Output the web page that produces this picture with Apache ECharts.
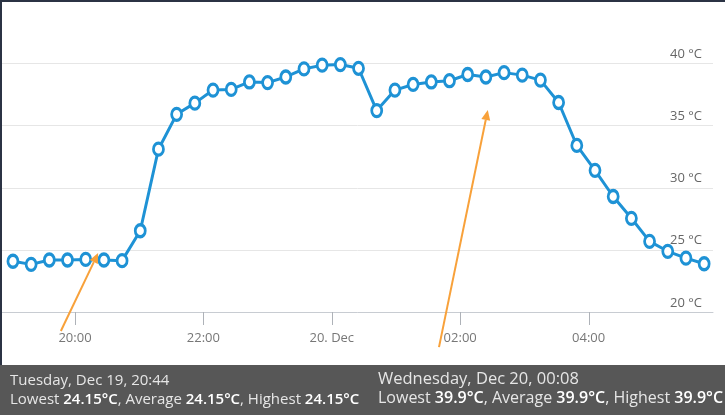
<!DOCTYPE html>
<html><head><meta charset="utf-8">
<script src="https://cdn.jsdelivr.net/npm/echarts@6/dist/echarts.min.js"></script>
<style>html,body{margin:0;padding:0;background:#fff}#c{width:725px;height:415px}</style>
</head><body><div id="c"></div>
<script>
// Reading times (Dec 19 -> Dec 20) and temperatures in °C
const times = ['19:02','19:19','19:36','19:53','20:10','20:27','20:44','21:01','21:18','21:35',
  '21:52','22:09','22:26','22:43','23:00','23:17','23:34','23:51','00:08','00:25',
  '00:42','00:59','01:16','01:33','01:50','02:07','02:24','02:41','02:58','03:15',
  '03:32','03:49','04:06','04:23','04:40','04:57','05:14','05:31','05:48'];
const temps = [24.1,23.85,24.2,24.2,24.25,24.2,24.15,26.55,33.1,35.9,
  36.8,37.85,37.9,38.5,38.45,38.9,39.55,39.85,39.9,39.6,
  36.2,37.85,38.3,38.5,38.6,39.1,38.9,39.25,39.05,38.65,
  36.85,33.4,31.4,29.3,27.55,25.7,24.9,24.35,23.9];
// x tick positions (hours since Dec 19 00:00) and their labels
const tickHours = [20,22,24,26,28];
const tickLabels = ['20:00','22:00','20. Dec','02:00','04:00'];
const yTicks = [20,25,30,35,40];
// Tooltip panels
const tipLeft = {date:'Tuesday, Dec 19, 20:44', low:'24.15°C', avg:'24.15°C', high:'24.15°C'};
const tipRight = {date:'Wednesday, Dec 20, 00:08', low:'39.9°C', avg:'39.9°C', high:'39.9°C'};
// Annotation arrows in data coordinates [hours, °C]
const arrows = [{from:[19.78,18.5], to:[20.36,24.76]}, {from:[25.67,17.2], to:[26.43,36.25]}];

function toHours(t){const p=t.split(':').map(Number);return (p[0]<12?p[0]+24:p[0])+p[1]/60;}
const seriesData = times.map((t,i)=>[toHours(t), temps[i]]);
const blue = '#1e92d5';
const FONT = '"Open Sans", sans-serif';

const chart = echarts.init(document.getElementById('c'), null, {renderer:'canvas'});
chart.setOption({
  animation:false,
  grid:{left:2, right:12, top:63.3, bottom:102.7, containLabel:false},
  xAxis:{
    type:'value', min:18.863, max:29.938,
    axisLine:{show:true, lineStyle:{color:'#c8ccd2', width:1}},
    axisTick:{show:false},
    axisLabel:{customValues:tickHours, margin:19, color:'#777', fontFamily:FONT, fontSize:13,
      formatter:(v)=>{const i=tickHours.indexOf(Math.round(v));return i>=0?tickLabels[i]:'';}},
    splitLine:{show:false}
  },
  yAxis:{
    type:'value', position:'right', min:20, max:40, interval:5,
    axisLine:{show:false}, axisTick:{show:false},
    axisLabel:{inside:true, margin:11, color:'#666', fontFamily:FONT, fontSize:13,
      verticalAlign:'bottom', padding:[0,0,3,0], formatter:(v)=>v+' °C'},
    splitLine:{lineStyle:{color:'#e6e6e6', width:1}}
  },
  series:[{
    type:'line', data:seriesData, clip:false,
    lineStyle:{color:blue, width:3},
    symbol:'circle', symbolSize:[10,12], showSymbol:true,
    itemStyle:{color:'#fff', borderColor:blue, borderWidth:3}
  }]
});

function tickGraphics(){
  return tickHours.map(h=>{
    const p=chart.convertToPixel({gridIndex:0}, [h, 20]);
    const x=Math.round(p[0])+0.5, y=Math.round(p[1]);
    return {type:'rect', z:98, shape:{x:x-0.5,y:y,width:1,height:13}, style:{fill:'#aeb2b8'}};
  });
}
function arrowGraphics(){
  const els=[];
  arrows.forEach(a=>{
    const p0=chart.convertToPixel({gridIndex:0}, a.from);
    const p1=chart.convertToPixel({gridIndex:0}, a.to);
    const dx=p1[0]-p0[0], dy=p1[1]-p0[1], L=Math.hypot(dx,dy), ux=dx/L, uy=dy/L;
    const hl=10, hw=4.5;
    const bx=p1[0]-ux*hl, by=p1[1]-uy*hl;
    els.push({type:'line', z:100, shape:{x1:p0[0],y1:p0[1],x2:bx,y2:by}, style:{stroke:'#f8a13a', lineWidth:2}});
    els.push({type:'polygon', z:100, shape:{points:[[p1[0],p1[1]],[bx-uy*hw,by+ux*hw],[bx+uy*hw,by-ux*hw]]}, style:{fill:'#f8a13a'}});
  });
  return els;
}
function tipText(x, y1, y2, fs1, fs2, tip){
  const rich={n:{fill:'#e6e6e6', fontFamily:FONT, fontSize:fs2}, b:{fill:'#ffffff', fontFamily:FONT, fontSize:fs2, fontWeight:600}};
  return [
    {type:'text', z:101, x:x, y:y1, style:{text:tip.date, fill:'#e6e6e6', font:fs1+'px '+FONT, verticalAlign:'middle'}},
    {type:'text', z:101, x:x, y:y2, style:{text:'{n|Lowest }{b|'+tip.low+'}{n|, Average }{b|'+tip.avg+'}{n|, Highest }{b|'+tip.high+'}', rich:rich, verticalAlign:'middle'}}
  ];
}
chart.setOption({graphic:[
  ...tickGraphics(),
  {type:'rect', z:99, shape:{x:0,y:365,width:725,height:50}, style:{fill:'#575757'}},
  {type:'rect', z:99, shape:{x:0,y:0,width:725,height:2}, style:{fill:'#2b3344'}},
  {type:'rect', z:99, shape:{x:0,y:0,width:2,height:365}, style:{fill:'#2b3344'}},
  ...arrowGraphics(),
  ...tipText(10, 381, 400, 15, 15, tipLeft),
  ...tipText(378, 379, 398, 16.5, 16, tipRight)
]});
</script></body></html>
